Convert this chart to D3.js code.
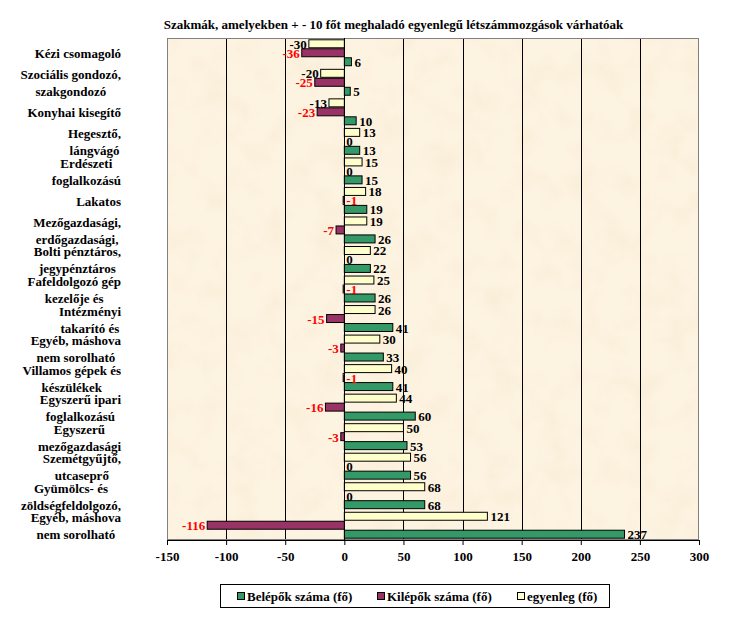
<!DOCTYPE html>
<html>
<head>
<meta charset="utf-8">
<script src="https://cdn.jsdelivr.net/npm/d3@7"></script>
<style>
  html, body { margin: 0; padding: 0; background: #fff; }
  svg { display: block; }
  text { font-family: "Liberation Serif", "Times New Roman", serif; font-weight: bold; }
</style>
</head>
<body>
<svg id="chart" width="733" height="624"></svg>
<script>
// ---------- data ----------
const title = "Szakmák, amelyekben + - 10 főt meghaladó egyenlegű létszámmozgások várhatóak";
const categories = [
  ["Kézi csomagoló"],
  ["Szociális gondozó,", "szakgondozó"],
  ["Konyhai kisegítő"],
  ["Hegesztő,", "lángvágó"],
  ["Erdészeti", "foglalkozású"],
  ["Lakatos"],
  ["Mezőgazdasági,", "erdőgazdasági,"],
  ["Bolti pénztáros,", "jegypénztáros"],
  ["Fafeldolgozó gép", "kezelője és"],
  ["Intézményi", "takarító és"],
  ["Egyéb, máshova", "nem sorolható"],
  ["Villamos gépek és", "készülékek"],
  ["Egyszerű ipari", "foglalkozású"],
  ["Egyszerű", "mezőgazdasági"],
  ["Szemétgyűjtő,", "utcaseprő"],
  ["Gyümölcs- és", "zöldségfeldolgozó,"],
  ["Egyéb, máshova", "nem sorolható"]
];
const belepok  = [6, 5, 10, 13, 15, 19, 26, 22, 26, 41, 33, 41, 60, 53, 56, 68, 237];
const kilepok  = [-36, -25, -23, 0, 0, -1, -7, 0, -1, -15, -3, -1, -16, -3, 0, 0, -116];
const egyenleg = [-30, -20, -13, 13, 15, 18, 19, 22, 25, 26, 30, 40, 44, 50, 56, 68, 121];
const seriesNames = ["Belépők száma (fő)", "Kilépők száma (fő)", "egyenleg (fő)"];
const xTicks = [-150, -100, -50, 0, 50, 100, 150, 200, 250, 300];

// ---------- layout ----------
const plot = { left: 167, right: 699, top: 38, bottom: 540 };
const colors = { bel: "#339966", kil: "#993366", egy: "#FFFFCC" };

const svg = d3.select("#chart");

// paper texture filter
const defs = svg.append("defs");
const f = defs.append("filter").attr("id", "paper")
  .attr("x", 0).attr("y", 0).attr("width", "100%").attr("height", "100%");
f.append("feTurbulence").attr("type", "fractalNoise").attr("baseFrequency", "0.035")
  .attr("numOctaves", 3).attr("seed", 7).attr("result", "n");
f.append("feColorMatrix").attr("in", "n").attr("type", "matrix")
  .attr("values", "0 0 0 0 0.85  0 0 0 0 0.74  0 0 0 0 0.50  0.55 0 0 0 -0.24");

const x = d3.scaleLinear().domain([-150, 300]).range([plot.left, plot.right]);
const idx = d3.range(categories.length);
const pad = 0.088;
const y = d3.scaleBand().domain(idx).range([plot.top, plot.bottom])
  .paddingInner(pad).paddingOuter(pad / 2);
const keys = ["egy", "kil", "bel"]; // top to bottom inside a group
const yInner = d3.scaleBand().domain(keys).range([0, y.bandwidth()]);

// plot background
svg.append("rect").attr("x", plot.left).attr("y", plot.top)
  .attr("width", plot.right - plot.left).attr("height", plot.bottom - plot.top)
  .attr("fill", "#FDF3E1");
svg.append("rect").attr("x", plot.left).attr("y", plot.top)
  .attr("width", plot.right - plot.left).attr("height", plot.bottom - plot.top)
  .attr("fill", "#fff").attr("filter", "url(#paper)");

// gridlines
svg.append("g").selectAll("line")
  .data(xTicks.filter(t => t !== -150 && t !== 300))
  .join("line")
  .attr("x1", d => Math.round(x(d)) + 0.5).attr("x2", d => Math.round(x(d)) + 0.5)
  .attr("y1", plot.top).attr("y2", plot.bottom)
  .attr("stroke", "#000").attr("stroke-width", 1);

// plot border
svg.append("rect").attr("x", plot.left + 0.5).attr("y", plot.top + 0.5)
  .attr("width", plot.right - plot.left - 1).attr("height", plot.bottom - plot.top - 1)
  .attr("fill", "none").attr("stroke", "#808080");

// bars
const rows = idx.map(i => ({ i, bel: belepok[i], kil: kilepok[i], egy: egyenleg[i] }));
const flat = [];
rows.forEach(r => keys.forEach(k => flat.push({ i: r.i, k, v: r[k] })));

svg.append("g").selectAll("rect")
  .data(flat.filter(d => d.v !== 0))
  .join("rect")
  .attr("x", d => Math.min(x(0), x(d.v)))
  .attr("width", d => Math.max(Math.abs(x(d.v) - x(0)), 0.8))
  .attr("y", d => y(d.i) + yInner(d.k) + 0.5)
  .attr("height", yInner.bandwidth() - 1)
  .attr("fill", d => colors[d.k])
  .attr("stroke", "#000").attr("stroke-width", 1);

// zero axis line
svg.append("line")
  .attr("x1", Math.round(x(0)) + 0.5).attr("x2", Math.round(x(0)) + 0.5)
  .attr("y1", plot.top).attr("y2", plot.bottom)
  .attr("stroke", "#000");

// data labels
svg.append("g").selectAll("text")
  .data(flat)
  .join("text")
  .attr("font-size", 13)
  .attr("dominant-baseline", "central")
  .attr("y", d => y(d.i) + yInner(d.k) + yInner.bandwidth() / 2 + 0.5)
  .attr("x", d => {
    if (d.v > 0) return x(d.v) + 3;
    if (d.v > -2) return x(0) + 2;
    return x(d.v) - 2;
  })
  .attr("text-anchor", d => (d.v > -2 ? "start" : "end"))
  .attr("fill", d => (d.k === "kil" && d.v < 0 ? "#FF0000" : "#000"))
  .text(d => d.v);

// x axis
const xAxis = d3.axisBottom(x).tickValues(xTicks).tickSize(5).tickPadding(7)
  .tickFormat(d3.format("d"));
const gx = svg.append("g").attr("transform", `translate(0,${plot.bottom})`).call(xAxis);
gx.select(".domain").attr("stroke", "#000").attr("d", `M${plot.left},0.5H${plot.right}`);
gx.selectAll(".tick line").attr("stroke", "#000");
gx.selectAll(".tick text")
  .attr("font-family", '"Liberation Serif", "Times New Roman", serif')
  .attr("font-weight", "bold").attr("font-size", 13).attr("fill", "#000")
  .text(d => String(d).replace("\u2212", "-"));

// category labels
const labelRight = 121;
const lg = svg.append("g");
categories.forEach((lines, i) => {
  const cy = y(i) + y.bandwidth() / 2 + 1;
  const g = lg.append("g");
  const texts = lines.map((s, j) => g.append("text")
    .attr("font-size", 13)
    .attr("dominant-baseline", "central")
    .attr("text-anchor", "middle")
    .attr("y", cy + (j - (lines.length - 1) / 2) * 17)
    .text(s));
  const w = d3.max(texts, t => t.node().getComputedTextLength());
  texts.forEach(t => t.attr("x", labelRight - w / 2));
});

// title
svg.append("text")
  .attr("x", (plot.left + 620) / 2).attr("y", 29)
  .attr("text-anchor", "middle").attr("font-size", 13)
  .text(title);

// legend
const legend = svg.append("g");
legend.append("rect").attr("x", 220.5).attr("y", 584.5).attr("width", 389).attr("height", 23)
  .attr("fill", "#fff").attr("stroke", "#000");
const legendX = [237, 377, 517];
const legendColors = [colors.bel, colors.kil, colors.egy];
seriesNames.forEach((name, i) => {
  legend.append("rect").attr("x", legendX[i] + 0.5).attr("y", 592.5)
    .attr("width", 7).attr("height", 7)
    .attr("fill", legendColors[i]).attr("stroke", "#000");
  legend.append("text").attr("x", legendX[i] + 10).attr("y", 596)
    .attr("dominant-baseline", "central").attr("font-size", 13)
    .text(name);
});
</script>
</body>
</html>
